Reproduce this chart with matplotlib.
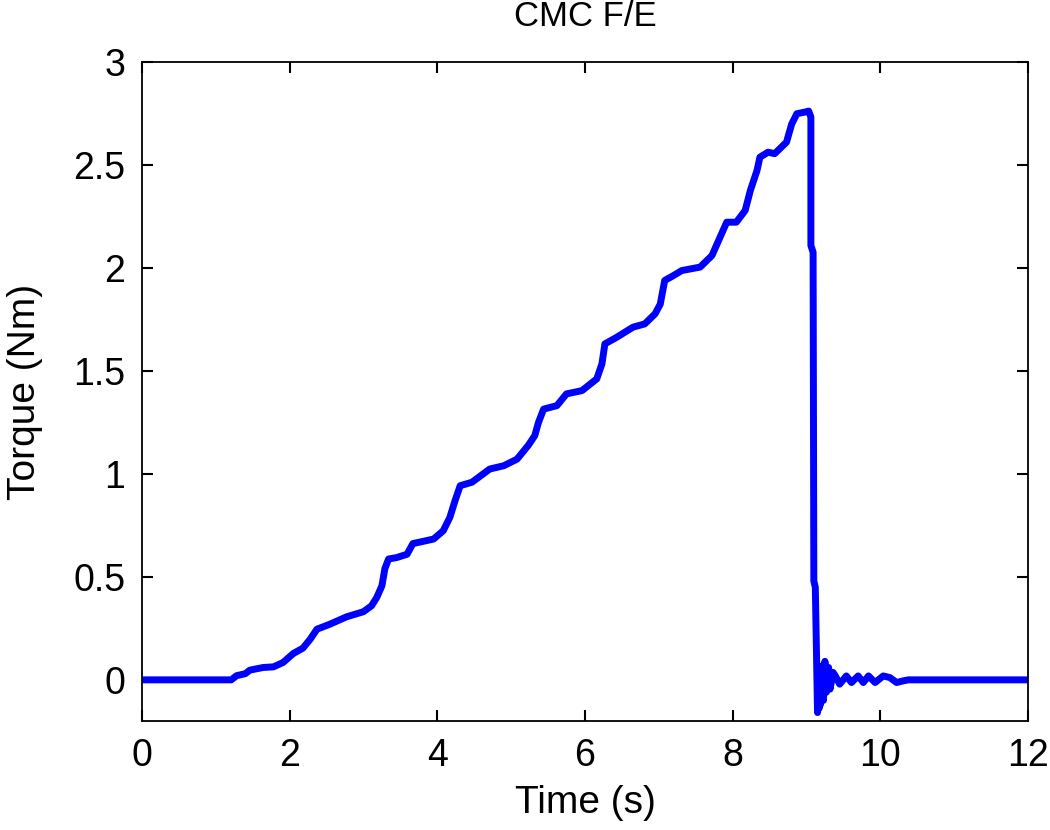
import matplotlib.pyplot as plt

plt.rcParams['font.family'] = ['Liberation Sans', 'DejaVu Sans']

# time (s) and torque (Nm)
time = [0.0, 1.21, 1.28, 1.40, 1.46, 1.64, 1.78, 1.91, 2.05, 2.18, 2.28, 2.37,
        2.55, 2.77, 3.00, 3.11, 3.18, 3.25, 3.29, 3.34, 3.45, 3.59, 3.67, 3.80,
        3.95, 4.08, 4.17, 4.24, 4.31, 4.47, 4.71, 4.90, 5.08, 5.23, 5.32, 5.37,
        5.44, 5.62, 5.75, 5.96, 6.16, 6.23, 6.27, 6.43, 6.65, 6.81, 6.95, 7.02,
        7.08, 7.20, 7.31, 7.56, 7.72, 7.81, 7.92, 8.05, 8.17, 8.24, 8.33, 8.37,
        8.48, 8.57, 8.73, 8.80, 8.87, 8.98, 9.03, 9.06, 9.06, 9.09, 9.10, 9.12,
        9.15, 9.16, 9.17, 9.18, 9.19, 9.20, 9.21, 9.22, 9.23, 9.25, 9.27, 9.30,
        9.32, 9.36, 9.39, 9.45, 9.54, 9.61, 9.70, 9.77, 9.84, 9.93, 10.04, 10.13,
        10.22, 10.31, 10.38, 12.0]
torque = [0.0, 0.0, 0.02, 0.03, 0.047, 0.06, 0.063, 0.084, 0.128, 0.154, 0.198, 0.246,
          0.271, 0.306, 0.331, 0.36, 0.40, 0.457, 0.54, 0.587, 0.594, 0.61, 0.662, 0.672,
          0.684, 0.724, 0.789, 0.87, 0.943, 0.96, 1.024, 1.04, 1.072, 1.138, 1.186, 1.25,
          1.315, 1.332, 1.389, 1.405, 1.462, 1.535, 1.632, 1.664, 1.713, 1.729, 1.778, 1.825,
          1.94, 1.964, 1.988, 2.005, 2.061, 2.134, 2.223, 2.223, 2.28, 2.377, 2.474, 2.539,
          2.563, 2.556, 2.612, 2.70, 2.75, 2.758, 2.763, 2.734, 2.11, 2.077, 0.48, 0.45,
          -0.159, 0.03, -0.14, 0.06, -0.12, 0.05, -0.08, 0.07, -0.10, 0.09, -0.06, 0.06,
          -0.045, 0.036, 0.02, -0.021, 0.019, -0.013, 0.019, -0.013, 0.019, -0.013, 0.019, 0.011,
          -0.013, -0.005, 0.0, 0.0]

fig = plt.figure(figsize=(10.5, 8.3), dpi=100)
ax = fig.add_axes([0.1352, 0.1313, 0.8438, 0.7937])

ax.plot(time, torque, color='#0000ff', linewidth=5, solid_joinstyle='round',
        solid_capstyle='round')

ax.set_xlim(0, 12)
ax.set_ylim(-0.2, 3)
ax.set_xticks([0, 2, 4, 6, 8, 10, 12])
ax.set_yticks([0, 0.5, 1, 1.5, 2, 2.5, 3])
ax.set_yticklabels(['0', '0.5', '1', '1.5', '2', '2.5', '3'])

ax.tick_params(direction='in', top=True, right=True, length=8, width=1.5,
               labelsize=27, pad=12)
for s in ax.spines.values():
    s.set_linewidth(1.3)

ax.set_xlabel('Time (s)', fontsize=28, labelpad=8)
ax.set_ylabel('Torque (Nm)', fontsize=28, labelpad=22)
ax.set_title('CMC F/E', fontsize=25, pad=26)

fig.savefig('out.png', dpi=100)
